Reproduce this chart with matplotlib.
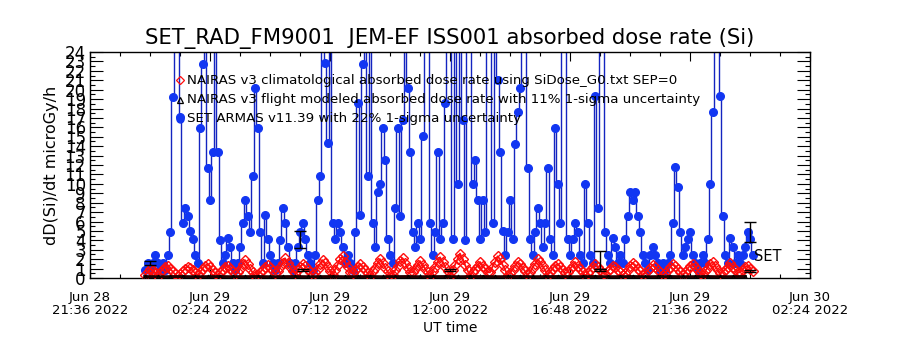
import numpy as np
import matplotlib
matplotlib.use("Agg")
import matplotlib.pyplot as plt
from matplotlib.ticker import MultipleLocator, FixedLocator

# ---------------- data ----------------
title = "SET_RAD_FM9001  JEM-EF ISS001 absorbed dose rate (Si)"
xtick_labels = ["Jun 28\n21:36 2022", "Jun 29\n02:24 2022", "Jun 29\n07:12 2022",
                "Jun 29\n12:00 2022", "Jun 29\n16:48 2022", "Jun 29\n21:36 2022",
                "Jun 30\n02:24 2022"]
xtick_hours = [0.0, 4.8, 9.6, 14.4, 19.2, 24.0, 28.8]   # hours since Jun 28 21:36 UT
x_range = (0.0, 28.8)
y_range = (0.0, 24.0)

# sampling of the series: start (hours since Jun 28 21:36) and cadence (hours)
series_start_h = 2.2
series_step_h = 0.1

# SET ARMAS v11.39 absorbed dose rate, microGy/h (values >24 are off-scale spikes)
set_armas = [
    0.8, 1.6, 0.8, 1.6, 2.4, 1.6, 0.8, 1.6, 0.8, 2.4,
    4.9, 19.2, 30, 30, 17.1, 5.8, 7.4, 6.6, 5.0, 4.1,
    2.4, 1.6, 15.9, 22.7, 30, 11.7, 8.3, 13.4, 30, 13.4,
    4.0, 1.6, 2.4, 4.2, 3.3, 1.6, 0.8, 1.6, 3.3, 5.8,
    8.3, 6.6, 4.9, 10.8, 20.2, 15.9, 4.9, 1.6, 6.7, 4.1,
    2.4, 1.6, 0.8, 1.6, 4.0, 7.4, 5.8, 3.3, 1.6, 0.8,
    1.6, 3.3, 4.9, 5.8, 4.1, 2.4, 1.6, 0.8, 2.4, 8.3,
    10.8, 30, 22.8, 14.3, 30, 5.8, 4.1, 5.8, 4.9, 3.3,
    1.6, 2.4, 1.6, 0.8, 4.9, 18.6, 6.7, 22.7, 30, 10.8,
    30, 5.8, 3.3, 9.1, 10.0, 15.9, 12.5, 4.1, 2.4, 1.6,
    7.4, 15.9, 6.6, 16.8, 30, 20.2, 13.4, 4.9, 3.3, 5.8,
    4.1, 15.1, 30, 30, 5.8, 2.4, 4.9, 13.4, 4.1, 5.8,
    18.6, 30, 30, 4.1, 30, 10.0, 30, 16.8, 4.0, 30,
    30, 10.0, 12.5, 8.3, 4.1, 8.3, 4.9, 30, 30, 5.8,
    30, 21.0, 13.4, 5.0, 2.4, 4.9, 8.3, 4.1, 14.2, 17.6,
    20.2, 30, 30, 11.7, 4.1, 2.4, 4.9, 7.4, 5.8, 3.3,
    5.8, 11.7, 4.1, 2.4, 15.9, 10.0, 5.8, 30, 30, 4.1,
    2.4, 4.1, 5.8, 4.9, 2.4, 1.6, 10.0, 5.8, 2.4, 1.6,
    19.3, 7.4, 30, 30, 4.9, 2.4, 1.6, 4.2, 3.3, 1.6,
    2.4, 1.6, 4.1, 6.6, 9.1, 8.3, 9.1, 6.6, 4.9, 2.4,
    1.6, 0.8, 2.4, 3.3, 2.4, 1.6, 0.8, 1.6, 0.8, 1.6,
    2.4, 5.8, 11.8, 9.7, 4.9, 2.4, 3.3, 4.1, 4.9, 2.4,
    1.6, 0.8, 1.6, 2.4, 1.6, 4.1, 10.0, 17.6, 30, 30,
    19.3, 6.6, 2.4, 1.6, 4.2, 3.3, 1.6, 2.4, 1.6, 2.4,
    3.3, 4.9, 4.1, 2.4,
]

# NAIRAS v3 climatological absorbed dose rate (SEP=0), microGy/h
nairas_clim = [
    0.3, 0.6, 1.0, 0.9, 0.5, 0.2, 0.6, 0.9, 1.2, 1.3,
    1.0, 0.7, 0.4, 0.2, 0.4, 0.7, 1.0, 1.2, 1.1, 0.8,
    0.5, 0.3, 0.6, 1.0, 1.3, 1.5, 1.2, 0.8, 0.5, 0.3,
    0.6, 0.9, 1.2, 1.3, 1.0, 0.7, 0.4, 0.6, 1.0, 1.5,
    1.9, 1.5, 1.0, 0.6, 0.2, 0.3, 0.6, 0.9, 1.2, 1.4,
    1.1, 0.8, 0.5, 0.7, 1.2, 1.6, 2.1, 1.6, 1.2, 0.7,
    0.5, 0.8, 1.2, 1.5, 1.3, 1.0, 0.6, 0.3, 0.6, 1.0,
    1.5, 1.9, 1.6, 1.2, 0.7, 0.3, 0.9, 1.4, 2.0, 2.3,
    1.7, 1.2, 0.6, 0.5, 0.9, 1.2, 1.5, 1.2, 0.9, 0.5,
    0.2, 0.7, 1.1, 1.6, 2.0, 1.6, 1.1, 0.7, 0.2, 0.3,
    0.8, 1.3, 1.8, 2.1, 1.6, 1.1, 0.6, 0.6, 1.0, 1.4,
    1.8, 1.4, 1.0, 0.6, 0.2, 0.7, 1.2, 1.7, 2.2, 1.7,
    1.2, 0.7, 0.2, 0.8, 1.4, 2.0, 2.6, 2.0, 1.4, 0.8,
    0.2, 0.6, 1.0, 1.3, 1.7, 1.3, 1.0, 0.6, 0.6, 1.2,
    1.7, 2.3, 2.0, 1.4, 0.9, 0.3, 0.5, 0.9, 1.3, 1.7,
    1.5, 1.1, 0.7, 0.3, 0.6, 1.1, 1.5, 2.0, 1.7, 1.3,
    0.8, 0.3, 0.6, 1.0, 1.3, 1.5, 1.2, 0.8, 0.5, 0.6,
    1.0, 1.3, 1.7, 1.3, 1.0, 0.6, 0.2, 0.5, 0.9, 1.2,
    1.5, 1.2, 0.9, 0.5, 0.4, 0.7, 1.0, 1.3, 1.2, 0.9,
    0.6, 0.3, 0.5, 0.9, 1.3, 1.6, 1.4, 1.0, 0.7, 0.3,
    0.5, 0.8, 1.1, 1.4, 1.2, 0.9, 0.6, 0.3, 0.5, 0.8,
    1.2, 1.5, 1.3, 1.0, 0.6, 0.3, 0.6, 1.0, 1.3, 1.5,
    1.2, 0.8, 0.5, 0.3, 0.7, 1.1, 1.5, 1.7, 1.3, 0.9,
    0.5, 0.6, 0.9, 1.2, 1.6, 1.2, 0.9, 0.6, 0.6, 0.9,
    1.2, 1.3, 1.0, 0.7,
]

# NAIRAS v3 flight modeled absorbed dose rate, microGy/h (30-min cadence)
flight_step_h = 0.5
nairas_flight = [
    0.12, 0.10, 0.11, 0.12, 0.10, 0.11, 0.12, 0.10, 0.11, 0.12,
    0.10, 0.11, 0.12, 0.10, 0.11, 0.12, 0.10, 0.11, 0.12, 0.10,
    0.11, 0.12, 0.10, 0.11, 0.12, 0.10, 0.11, 0.12, 0.10, 0.11,
    0.12, 0.10, 0.11, 0.12, 0.10, 0.11, 0.12, 0.10, 0.11, 0.12,
    0.10, 0.11, 0.12, 0.10, 0.11, 0.12, 0.10, 0.11, 0.12,
]

# uncertainty bars (hours, centre, half-height)
err_hours = [2.4, 8.4, 8.5, 14.4, 20.4, 20.4, 26.4, 26.4]
err_centre = [1.6, 4.1, 0.85, 0.85, 1.9, 0.85, 4.9, 0.75]
err_half = [0.18, 0.9, 0.1, 0.1, 0.95, 0.1, 1.08, 0.1]

legend_labels = [
    "NAIRAS v3 climatological absorbed dose rate using SiDose_G0.txt SEP=0",
    "NAIRAS v3 flight modeled absorbed dose rate with 11% 1-sigma uncertainty",
    "SET ARMAS v11.39 with 22% 1-sigma uncertainty",
]

# ---------------- figure ----------------
plt.rcParams['font.family'] = ['DejaVu Sans']
fig = plt.figure(figsize=(9, 3.5), dpi=100)
ax = fig.add_axes([0.1, 0.2057, 0.8, 0.6457])

t_set = series_start_h + series_step_h * np.arange(len(set_armas))
t_clim = series_start_h + series_step_h * np.arange(len(nairas_clim))
t_flight = series_start_h + flight_step_h * np.arange(len(nairas_flight))

blue_line = '#1424c0'
blue_dot = '#1236f2'
ax.plot(t_set, set_armas, '-', color=blue_line, lw=1.0, drawstyle='steps-mid', zorder=2)
ax.plot(t_set, set_armas, 'o', color=blue_dot, ms=5.5, mec=blue_dot, zorder=3)

ax.plot(t_clim, nairas_clim, '-', color='#ff0d0d', lw=1.3, zorder=4)
ax.plot(t_clim, nairas_clim, 'D', mfc='none', mec='#ff0d0d', mew=1.0, ms=5.5, zorder=4)

ax.plot(t_flight, nairas_flight, '-', color='#200000', lw=2.6, zorder=5)
ax.plot(t_flight, nairas_flight, '^', mfc='none', mec='black', mew=0.8, ms=3.5, zorder=5)

ax.errorbar(err_hours, err_centre, yerr=err_half, fmt='none', ecolor='black',
            elinewidth=1.0, capsize=4, capthick=1.0, zorder=6)

ax.text(26.55, 2.3, "SET", fontsize=10.5, ha='left', va='center', zorder=7)

# legend drawn inside the plot like the original
leg_y = [0.876, 0.788, 0.704]
ax.plot([0.125], [leg_y[0]], 'D', transform=ax.transAxes, mfc='none', mec='#ff0d0d',
        ms=4, mew=0.9, zorder=8, clip_on=False)
ax.plot([0.125], [leg_y[1]], '^', transform=ax.transAxes, mfc='none', mec='black',
        ms=5, mew=0.9, zorder=8, clip_on=False)
ax.plot([0.125], [leg_y[2]], 'o', transform=ax.transAxes, color=blue_dot,
        ms=5, zorder=8, clip_on=False)
for yy, lab in zip(leg_y, legend_labels):
    ax.text(0.135, yy, lab, transform=ax.transAxes, fontsize=9.6, va='center',
            ha='left', zorder=8)

ax.set_xlim(*x_range)
ax.set_ylim(*y_range)
ax.xaxis.set_major_locator(FixedLocator(xtick_hours))
ax.set_xticklabels(xtick_labels, fontsize=9.5, linespacing=1.0)
ax.xaxis.set_minor_locator(MultipleLocator(1.2))
ax.yaxis.set_major_locator(MultipleLocator(1))
ax.yaxis.set_minor_locator(MultipleLocator(0.5))
ax.tick_params(axis='y', which='major', labelsize=12, length=9.5, width=0.8,
               direction='in', left=True, right=True, pad=3)
ax.tick_params(axis='y', which='minor', length=3.8, width=0.8, direction='in',
               left=True, right=True)
ax.tick_params(axis='x', which='major', length=6.5, width=0.8, direction='in',
               top=True, bottom=True, pad=9.5)
ax.tick_params(axis='x', which='minor', length=3, width=0.8, direction='in',
               top=True, bottom=True)
for s in ax.spines.values():
    s.set_linewidth(1.0)

ax.set_xlabel("UT time", fontsize=10, labelpad=3)
ax.set_ylabel("dD(Si)/dt microGy/h", fontsize=11.5, labelpad=4)
ax.set_title(title, fontsize=15.2, pad=6)

fig.savefig("out.png", dpi=100)
